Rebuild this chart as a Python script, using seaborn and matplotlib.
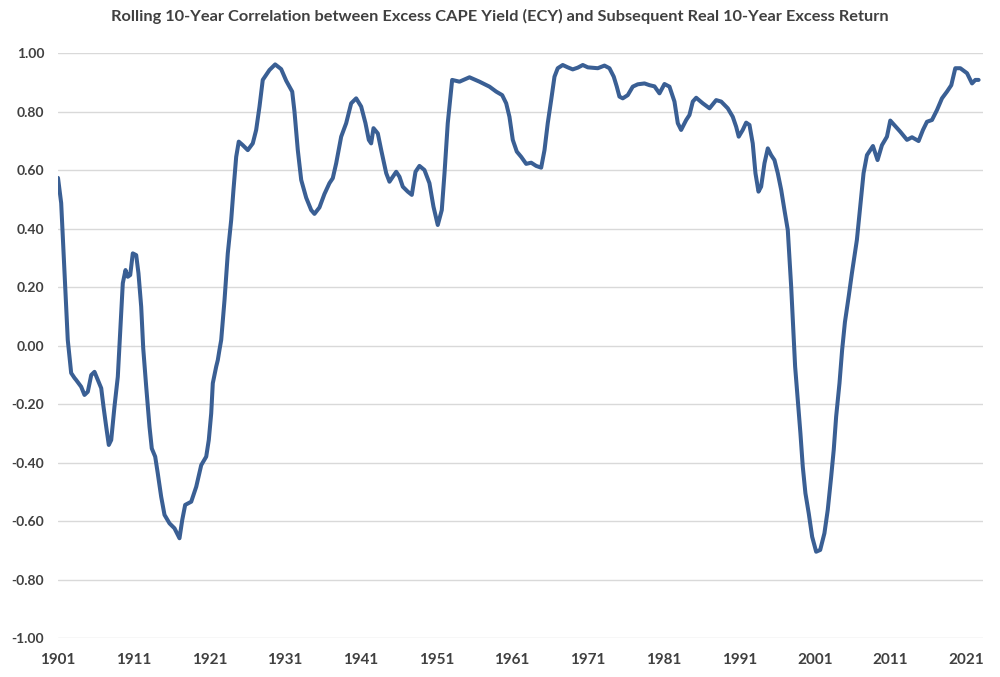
import pandas as pd
import numpy as np
import seaborn as sns
import matplotlib.pyplot as plt

# values (year, rolling correlation)
years = [1901.0, 1901.42, 1901.86, 1902.29, 1902.74, 1903.18, 1903.40, 1904.06, 1904.50, 1904.94,
         1905.39, 1905.82, 1906.26, 1906.71, 1907.01, 1907.37, 1907.71, 1908.03, 1908.46, 1908.90,
         1909.12, 1909.56, 1909.92, 1910.22, 1910.54, 1910.88, 1911.33, 1911.63, 1911.99, 1912.26,
         1912.65, 1913.09, 1913.39, 1913.84, 1914.18, 1914.63, 1915.07, 1915.73, 1916.39, 1917.05,
         1917.41, 1917.80, 1918.60, 1919.26, 1919.92, 1920.58, 1920.92, 1921.24, 1921.45, 1921.90,
         1922.11, 1922.33, 1922.56, 1923.00, 1923.43, 1923.88, 1924.18, 1924.54, 1924.88, 1925.41,
         1926.07, 1926.73, 1927.18, 1927.62, 1928.05, 1928.94, 1929.69, 1930.48, 1931.15, 1931.94,
         1932.24, 1932.68, 1933.13, 1933.79, 1934.45, 1934.88, 1935.54, 1936.20, 1936.86, 1937.30,
         1937.75, 1938.41, 1939.07, 1939.73, 1940.39, 1941.05, 1941.62, 1942.06, 1942.37, 1942.68,
         1943.25, 1943.70, 1944.36, 1944.79, 1945.23, 1945.68, 1946.11, 1946.55, 1947.21, 1947.74,
         1948.23, 1948.75, 1949.41, 1950.07, 1950.60, 1951.17, 1951.70, 1952.06, 1952.49, 1953.07,
         1954.04, 1955.36, 1956.68, 1958.00, 1958.89, 1959.68, 1960.21, 1960.64, 1961.08, 1961.61,
         1962.19, 1962.85, 1963.51, 1964.17, 1964.83, 1965.27, 1965.70, 1966.15, 1966.59, 1967.02,
         1967.68, 1968.34, 1969.00, 1969.67, 1970.33, 1970.99, 1972.31, 1973.19, 1973.85, 1974.42,
         1974.82, 1975.17, 1975.61, 1976.27, 1976.93, 1977.59, 1978.48, 1979.14, 1979.80, 1980.46,
         1981.12, 1981.78, 1982.44, 1982.88, 1983.32, 1983.99, 1984.42, 1984.86, 1985.31, 1986.18,
         1987.07, 1987.95, 1988.61, 1989.48, 1990.14, 1990.59, 1990.93, 1991.46, 1991.91, 1992.35,
         1992.78, 1993.14, 1993.54, 1993.89, 1994.33, 1994.77, 1995.21, 1995.65, 1996.09, 1996.54,
         1996.97, 1997.41, 1997.86, 1998.16, 1998.38, 1998.73, 1999.08, 1999.39, 1999.74, 2000.18,
         2000.63, 2001.16, 2001.69, 2002.25, 2002.69, 2003.14, 2003.48, 2003.80, 2004.24, 2004.59,
         2004.96, 2005.47, 2005.88, 2006.54, 2006.98, 2007.42, 2007.87, 2008.66, 2009.27, 2009.85,
         2010.51, 2010.95, 2011.61, 2012.27, 2013.16, 2013.82, 2014.69, 2015.27, 2015.80, 2016.46,
         2017.12, 2017.78, 2018.44, 2019.01, 2019.54, 2020.20, 2021.09, 2021.75, 2022.19, 2022.62]
corr = [0.573, 0.487, 0.248, 0.019, -0.094, -0.111, -0.118, -0.141, -0.169, -0.158,
        -0.101, -0.090, -0.118, -0.146, -0.209, -0.278, -0.340, -0.323, -0.209, -0.107,
        0.000, 0.213, 0.258, 0.235, 0.241, 0.315, 0.309, 0.247, 0.133, -0.010,
        -0.140, -0.278, -0.352, -0.380, -0.437, -0.517, -0.579, -0.608, -0.625, -0.659,
        -0.597, -0.545, -0.534, -0.483, -0.409, -0.380, -0.323, -0.232, -0.129, -0.072,
        -0.050, -0.015, 0.019, 0.156, 0.315, 0.429, 0.532, 0.645, 0.697, 0.685,
        0.668, 0.691, 0.737, 0.817, 0.908, 0.942, 0.961, 0.945, 0.905, 0.868,
        0.800, 0.668, 0.566, 0.505, 0.463, 0.450, 0.472, 0.518, 0.555, 0.572,
        0.623, 0.714, 0.760, 0.828, 0.845, 0.817, 0.760, 0.703, 0.691, 0.743,
        0.725, 0.668, 0.589, 0.560, 0.577, 0.594, 0.577, 0.543, 0.526, 0.515,
        0.594, 0.614, 0.600, 0.555, 0.475, 0.412, 0.463, 0.589, 0.760, 0.908,
        0.902, 0.917, 0.902, 0.885, 0.868, 0.856, 0.828, 0.782, 0.703, 0.663,
        0.645, 0.621, 0.625, 0.614, 0.608, 0.668, 0.760, 0.839, 0.919, 0.948,
        0.959, 0.951, 0.944, 0.950, 0.959, 0.951, 0.948, 0.957, 0.948, 0.919,
        0.885, 0.851, 0.845, 0.856, 0.885, 0.893, 0.896, 0.890, 0.886, 0.862,
        0.894, 0.885, 0.834, 0.760, 0.737, 0.771, 0.788, 0.834, 0.847, 0.828,
        0.811, 0.839, 0.834, 0.811, 0.782, 0.748, 0.714, 0.737, 0.762, 0.754,
        0.691, 0.589, 0.526, 0.543, 0.623, 0.674, 0.651, 0.634, 0.589, 0.532,
        0.463, 0.395, 0.200, 0.042, -0.072, -0.186, -0.300, -0.414, -0.505, -0.574,
        -0.654, -0.705, -0.699, -0.642, -0.562, -0.449, -0.357, -0.243, -0.129, -0.015,
        0.080, 0.170, 0.247, 0.361, 0.475, 0.589, 0.651, 0.682, 0.634, 0.685,
        0.714, 0.769, 0.750, 0.731, 0.703, 0.712, 0.699, 0.737, 0.765, 0.771,
        0.805, 0.845, 0.868, 0.890, 0.948, 0.948, 0.931, 0.896, 0.908, 0.908]

x_ticks = [1901, 1911, 1921, 1931, 1941, 1951, 1961, 1971, 1981, 1991, 2001, 2011, 2021]
y_ticks = [-1.0, -0.8, -0.6, -0.4, -0.2, 0.0, 0.2, 0.4, 0.6, 0.8, 1.0]

df = pd.DataFrame({"year": years, "corr": corr})

sns.set_style("white")
plt.rcParams['font.family'] = ['Lato', 'DejaVu Sans']

fig = plt.figure(figsize=(10, 6.77), dpi=100)
ax = fig.add_axes([0.058, 0.0576, 0.925, 0.8641])

sns.lineplot(data=df, x="year", y="corr", ax=ax, color="#3A5F94", linewidth=2.9)

ax.set_xlim(1901, 2023.2)
ax.set_ylim(-1.0, 1.0)
ax.set_xticks(x_ticks)
ax.set_yticks(y_ticks)
ax.set_yticklabels(["{:.2f}".format(v) for v in y_ticks])
ax.grid(axis="y", color="#d9d9d9", linewidth=1)
ax.set_axisbelow(True)
for s in ax.spines.values():
    s.set_visible(False)
ax.tick_params(axis="x", length=0, pad=11, labelsize=11, labelcolor="#404040")
ax.tick_params(axis="y", length=0, pad=10, labelsize=10, labelcolor="#404040")
for lab in ax.get_xticklabels() + ax.get_yticklabels():
    lab.set_fontweight("bold")
ax.set_xlabel("")
ax.set_ylabel("")

fig.text(0.5, 0.975, "Rolling 10-Year Correlation between Excess CAPE Yield (ECY) and Subsequent Real 10-Year Excess Return",
         ha="center", va="center", fontsize=11.8, fontweight="bold", color="#404040")

fig.savefig("out.png", dpi=100)
